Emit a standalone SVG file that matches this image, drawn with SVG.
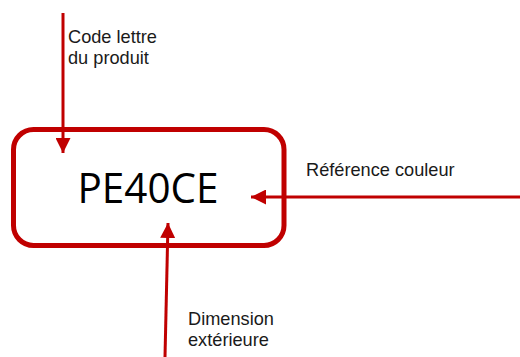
<svg xmlns="http://www.w3.org/2000/svg" width="520" height="357" viewBox="0 0 520 357">
<style>
.lbl{font-family:"Liberation Sans",Arial,sans-serif;font-size:18.2px;fill:#1a1a1a}
.conn{stroke:#c00000;stroke-width:3;fill:none}
</style>
<defs>
<marker id="ah" markerWidth="5" markerHeight="5" refX="5" refY="2.5" orient="auto" markerUnits="strokeWidth">
<path d="M0,0 L5,2.5 L0,5 Z" fill="#c00000"/>
</marker>
</defs>
<rect width="520" height="357" fill="#fff"/>
<g id="box">
<rect x="13.5" y="129.5" width="270.5" height="116" rx="20" ry="20" fill="#fff" stroke="#c00000" stroke-width="5"/>
<text x="148" y="203" text-anchor="middle" font-family="'Open Sans',sans-serif" font-size="42" fill="#000" textLength="141" lengthAdjust="spacingAndGlyphs">PE40CE</text>
</g>
<g id="connectors">
<line class="conn" x1="63" y1="13" x2="63" y2="153" marker-end="url(#ah)"/>
<line class="conn" x1="520" y1="197" x2="251" y2="197" marker-end="url(#ah)"/>
<line class="conn" x1="165" y1="357" x2="168" y2="223" marker-end="url(#ah)"/>
</g>
<g id="label-code">
<text class="lbl" x="68" y="43">Code lettre</text>
<text class="lbl" x="68" y="64">du produit</text>
</g>
<g id="label-ref">
<text class="lbl" x="306" y="175.5">Référence couleur</text>
</g>
<g id="label-dim">
<text class="lbl" x="188" y="325">Dimension</text>
<text class="lbl" x="188" y="346">extérieure</text>
</g>
</svg>
